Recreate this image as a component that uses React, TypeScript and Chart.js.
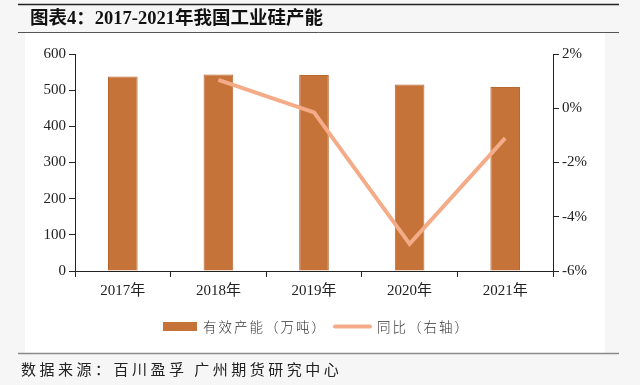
import React, { useEffect, useRef } from "react";
import { Chart, registerables } from "chart.js";

Chart.register(...registerables);

const categories = ["2017年", "2018年", "2019年", "2020年", "2021年"];
const capacity = [538, 543, 542, 516, 509];
const yoy = [null, 1.05, -0.15, -5.0, -1.1];
const leftTicks = { min: 0, max: 600, step: 100 };
const rightTicks = { min: -6, max: 2, step: 2 };

const titleText = "图表4：2017-2021年我国工业硅产能";
const footerText = "数据来源：百川盈孚 广州期货研究中心";
const barLabel = "有效产能（万吨）";
const lineLabel = "同比（右轴）";

const BAR_COLOR = "#C6733A";
const BAR_BORDER = "#B8672F";
const LINE_COLOR = "#F4AB88";

const decorPlugin = {
  id: "decor",
  beforeDraw(chart: any) {
    const ctx = chart.ctx;
    ctx.save();
    ctx.fillStyle = "#f6f6f6";
    ctx.fillRect(0, 0, 640, 385);
    ctx.fillStyle = "#ffffff";
    ctx.fillRect(25, 33, 580, 320);
    ctx.restore();
  },
  afterDraw(chart: any) {
    const ctx = chart.ctx;
    ctx.save();
    // rules
    ctx.strokeStyle = "#222";
    ctx.lineWidth = 1.5;
    ctx.beginPath();
    ctx.moveTo(18, 4.5);
    ctx.lineTo(619, 4.5);
    ctx.stroke();
    ctx.strokeStyle = "#555";
    ctx.lineWidth = 1;
    ctx.beginPath();
    ctx.moveTo(18, 32.5);
    ctx.lineTo(619, 32.5);
    ctx.stroke();
    ctx.strokeStyle = "#8a8a8a";
    ctx.lineWidth = 1.5;
    ctx.beginPath();
    ctx.moveTo(18, 353.5);
    ctx.lineTo(619, 353.5);
    ctx.stroke();

    // title
    ctx.fillStyle = "#111";
    ctx.textBaseline = "middle";
    ctx.textAlign = "left";
    ctx.font = 'bold 18.5px "Liberation Serif", "Noto Sans CJK SC"';
    ctx.fillText(titleText, 30, 19);

    // legend
    ctx.fillStyle = BAR_COLOR;
    ctx.fillRect(163, 322, 34, 9);
    ctx.strokeStyle = LINE_COLOR;
    ctx.lineWidth = 4;
    ctx.lineCap = "round";
    ctx.beginPath();
    ctx.moveTo(335, 326.5);
    ctx.lineTo(370, 326.5);
    ctx.stroke();
    ctx.fillStyle = "#333";
    ctx.font = '300 13.5px "Noto Sans CJK SC"';
    (ctx as any).letterSpacing = "2px";
    ctx.fillText(barLabel, 203, 327);
    ctx.fillText(lineLabel, 377, 327);

    // footer
    ctx.fillStyle = "#222";
    ctx.font = '15px "Noto Sans CJK SC"';
    (ctx as any).letterSpacing = "3.5px";
    ctx.fillText(footerText, 21, 369);
    ctx.restore();
  },
};

export default function App() {
  const ref = useRef<HTMLCanvasElement>(null);
  useEffect(() => {
    document.body.style.margin = "0";
    const tickFont = { family: '"Liberation Serif", "Noto Sans CJK SC"', size: 15 };
    const chart = new Chart(ref.current!, {
      type: "bar",
      data: {
        labels: categories,
        datasets: [
          {
            type: "line",
            label: lineLabel,
            data: yoy as any,
            yAxisID: "y1",
            borderColor: LINE_COLOR,
            backgroundColor: LINE_COLOR,
            borderWidth: 4,
            pointRadius: 0,
            tension: 0,
            order: 0,
          } as any,
          {
            type: "bar",
            label: barLabel,
            data: capacity,
            yAxisID: "y",
            backgroundColor: BAR_COLOR,
            borderColor: BAR_BORDER,
            borderWidth: 1,
            categoryPercentage: 1,
            barPercentage: 0.31,
            order: 1,
          },
        ],
      },
      options: {
        responsive: false,
        animation: false,
        layout: { padding: { left: 0, right: 0, top: 54, bottom: 0 } },
        plugins: { legend: { display: false }, tooltip: { enabled: false } },
        scales: {
          x: {
            offset: true,
            grid: {
              offset: true,
              drawOnChartArea: false,
              drawTicks: true,
              tickLength: 6,
              color: "#222",
            },
            border: { color: "#222", width: 1 },
            ticks: { color: "#222", font: tickFont, padding: 5 },
            afterFit: (s: any) => {
              s.height = 114;
            },
          },
          y: {
            position: "left",
            min: leftTicks.min,
            max: leftTicks.max,
            grid: { drawOnChartArea: false, tickLength: 6, color: "#222" },
            border: { color: "#222", width: 1 },
            ticks: { stepSize: leftTicks.step, color: "#222", font: tickFont, padding: 3 },
            afterFit: (s: any) => {
              s.width = 75;
            },
          },
          y1: {
            position: "right",
            min: rightTicks.min,
            max: rightTicks.max,
            grid: { drawOnChartArea: false, tickLength: 6, color: "#222" },
            border: { color: "#222", width: 1 },
            ticks: {
              stepSize: rightTicks.step,
              color: "#222",
              font: tickFont,
              padding: 3,
              callback: (v: any) => `${v}%`,
            },
            afterFit: (s: any) => {
              s.width = 87;
            },
          },
        },
      },
      plugins: [decorPlugin],
    });
    return () => chart.destroy();
  }, []);
  return <canvas ref={ref} width={640} height={385} style={{ display: "block" }} />;
}
